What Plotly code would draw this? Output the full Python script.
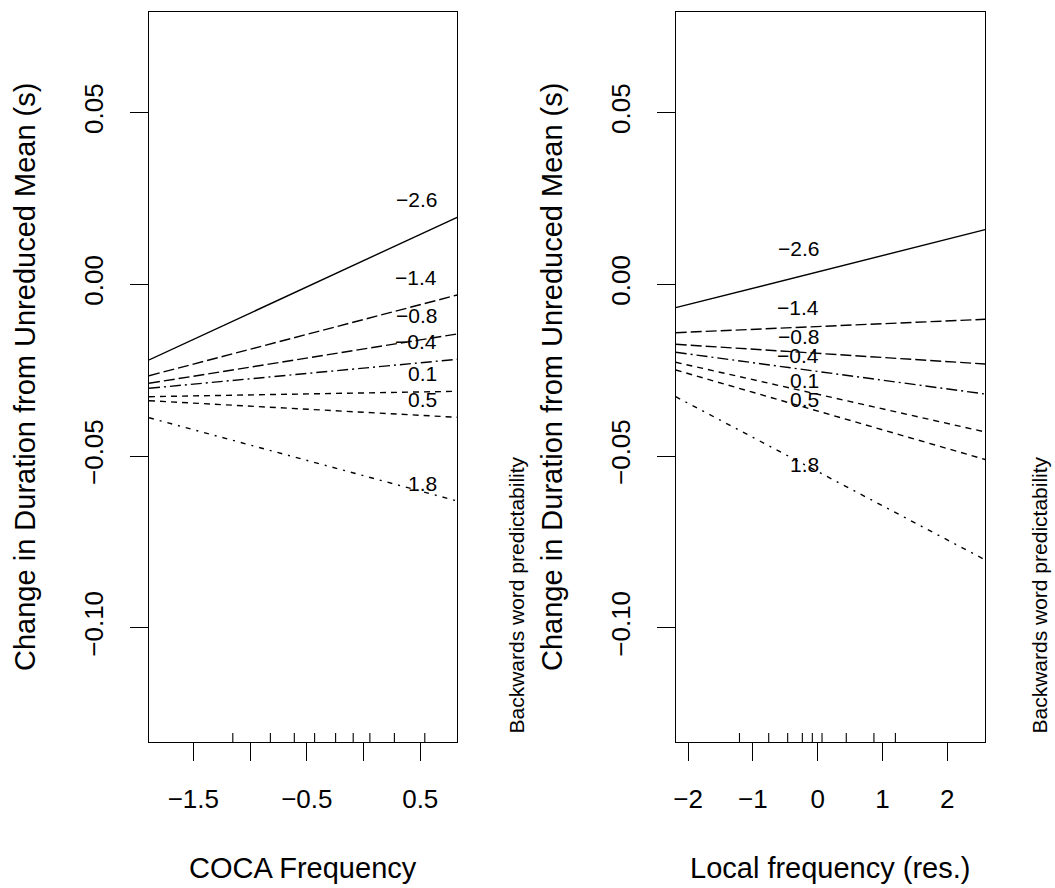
import plotly.graph_objects as go

W, H = 1055, 888
FONT = "Liberation Sans, Arial, sans-serif"

# ---- data ----
levels = ["\u22122.6", "\u22121.4", "\u22120.8", "\u22120.4", "0.1", "0.5", "1.8"]

# Panel 1: COCA Frequency
coca_x = [-1.8905, 0.825]
coca_start = [-0.02204, -0.02662, -0.02883, -0.03029, -0.03273, -0.03390, -0.03885]
coca_end = [0.01951, -0.00312, -0.01447, -0.02184, -0.03116, -0.03873, -0.06310]
coca_label_x = 0.666
coca_label_y = [0.02455, 0.00198, -0.00923, -0.01672, -0.02583, -0.03340, -0.05801]
coca_rug = [-1.152, -0.821, -0.610, -0.431, -0.246, -0.091, 0.056, 0.272, 0.540]
coca_ticks = [-1.5, -1.0, -0.5, 0.0, 0.5]
coca_ticktext = ["\u22121.5", "", "\u22120.5", "", "0.5"]

# Panel 2: Local frequency (res.)
local_x = [-2.19, 2.585]
local_start = [-0.00681, -0.01409, -0.01747, -0.01980, -0.02271, -0.02495, -0.03273]
local_end = [0.01590, -0.01019, -0.02321, -0.03195, -0.04299, -0.05101, -0.08024]
local_label_x = 0.057
local_label_y = [0.01037, -0.00676, -0.01526, -0.02073, -0.02801, -0.03369, -0.05247]
local_rug = [-1.206, -0.755, -0.462, -0.236, -0.082, 0.068, 0.442, 0.869, 1.200]
local_ticks = [-2, -1, 0, 1, 2]
local_ticktext = ["\u22122", "\u22121", "0", "1", "2"]

y_range = [-0.13328, 0.07929]
y_ticks = [0.05, 0.0, -0.05, -0.10]

dashes = ["solid", "11px,4px", "11px,4px", "11px,4px,2px,4px",
          "6px,5px", "6px,5px", "5px,6px,2px,6px"]

fig = go.Figure()

panels = [
    ("x", "y", coca_x, coca_start, coca_end, coca_label_x, coca_label_y),
    ("x2", "y2", local_x, local_start, local_end, local_label_x, local_label_y),
]
for xa, ya, xs, st, en, lx, ly in panels:
    for i, lev in enumerate(levels):
        fig.add_trace(go.Scatter(
            x=xs, y=[st[i], en[i]], mode="lines", xaxis=xa, yaxis=ya,
            line=dict(color="black", width=1.4, dash=dashes[i]),
            showlegend=False, hoverinfo="skip"))
        fig.add_annotation(x=lx, y=ly[i], xref=xa, yref=ya, text=lev,
                           showarrow=False, xanchor="right", yanchor="middle",
                           font=dict(family=FONT, size=21, color="black"))

shapes = []
for xa, rug in (("x", coca_rug), ("x2", local_rug)):
    yd = "y domain" if xa == "x" else "y2 domain"
    for r in rug:
        shapes.append(dict(type="line", xref=xa, yref=yd, x0=r, x1=r, y0=0, y1=9 / 730,
                           line=dict(color="black", width=1.1)))

ax_common = dict(showline=True, mirror=True, linecolor="black", linewidth=1.3,
                 ticks="outside", ticklen=18, tickwidth=1.3, tickcolor="black",
                 showgrid=False, zeroline=False,
                 tickfont=dict(family=FONT, size=26, color="black"))

ydom = [1 - 742 / H, 1 - 12 / H]
fig.update_layout(
    width=W, height=H, autosize=False,
    margin=dict(l=0, r=0, t=0, b=0),
    paper_bgcolor="white", plot_bgcolor="white",
    font=dict(family=FONT, color="black"),
    shapes=shapes,
    xaxis=dict(domain=[147.3 / W, 456 / W], range=coca_x, tickvals=coca_ticks,
               ticktext=coca_ticktext, ticklabelstandoff=16, anchor="y", **ax_common),
    yaxis=dict(domain=ydom, range=y_range, tickvals=y_ticks, tickformat=".2f",
               tickangle=-90, ticklabelstandoff=16, anchor="x", **ax_common),
    xaxis2=dict(domain=[675 / W, 985 / W], range=local_x, tickvals=local_ticks,
                ticktext=local_ticktext, ticklabelstandoff=16, anchor="y2", **ax_common),
    yaxis2=dict(domain=ydom, range=y_range, tickvals=y_ticks, tickformat=".2f",
                tickangle=-90, ticklabelstandoff=16, anchor="x2", **ax_common),
)

# axis titles
for cx, txt in ((301.6 / W, "COCA Frequency"), (830 / W, "Local frequency (res.)")):
    fig.add_annotation(x=cx, y=1 - 868 / H, xref="paper", yref="paper", text=txt,
                       showarrow=False, xanchor="center", yanchor="middle",
                       font=dict(family=FONT, size=29, color="black"))
for cx in (23 / W, 551 / W):
    fig.add_annotation(x=cx, y=1 - 377 / H, xref="paper", yref="paper",
                       text="Change in Duration from Unreduced Mean (s)",
                       showarrow=False, textangle=-90, xanchor="center", yanchor="middle",
                       font=dict(family=FONT, size=29, color="black"))
for cx in (515 / W, 1039 / W):
    fig.add_annotation(x=cx, y=1 - 736 / H, xref="paper", yref="paper",
                       text="Backwards word predictability",
                       showarrow=False, textangle=-90, xanchor="center", yanchor="bottom",
                       font=dict(family=FONT, size=21, color="black"))

fig.write_html("out.html")
